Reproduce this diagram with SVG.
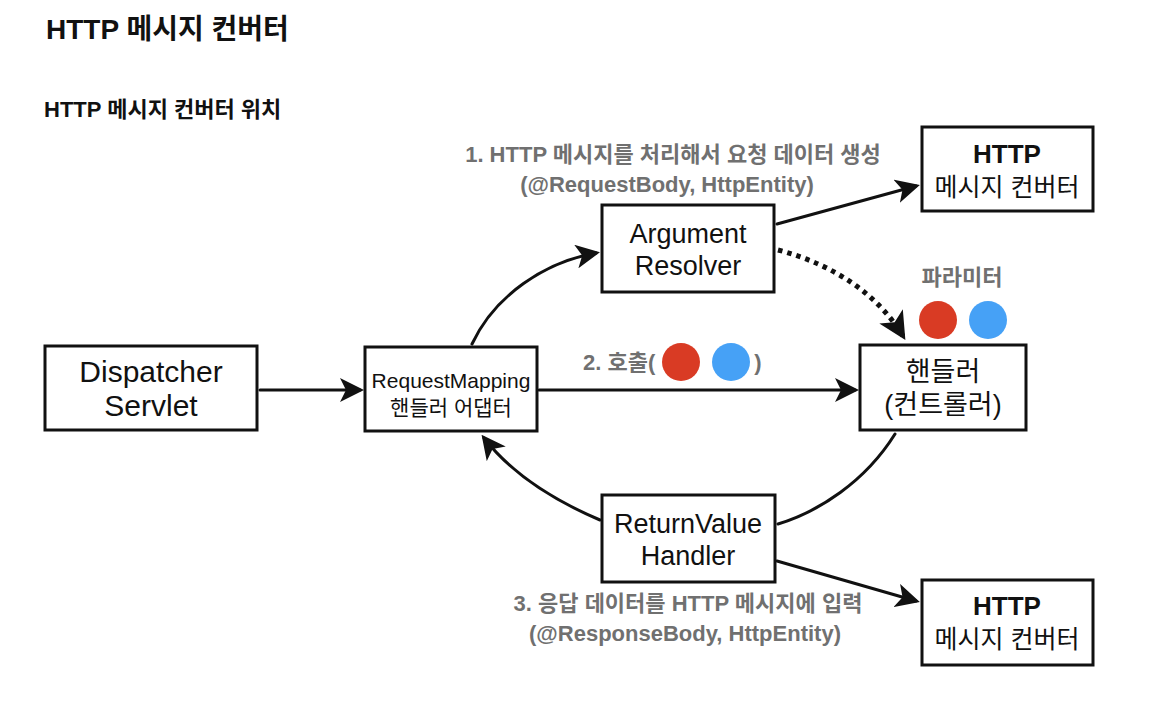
<svg xmlns="http://www.w3.org/2000/svg" width="1174" height="714" viewBox="0 0 1174 714">
<defs>
<marker id="ah" viewBox="0 0 12 12" refX="10" refY="6" markerWidth="8" markerHeight="8" orient="auto" markerUnits="strokeWidth">
<path d="M0,0 L12,6 L0,12 L3,6 Z" fill="#111"/>
</marker>
<marker id="ahs" viewBox="0 0 12 12" refX="10" refY="6" markerWidth="5.5" markerHeight="5.5" orient="auto" markerUnits="strokeWidth">
<path d="M0,0 L12,6 L0,12 L3,6 Z" fill="#111"/>
</marker>
<style>
text{font-family:"Liberation Sans","Noto Sans CJK KR",sans-serif;}
.box{fill:#fff;stroke:#111;stroke-width:3;}
.t{font-size:27px;fill:#111;text-anchor:middle;}
.tb{font-size:26px;fill:#111;text-anchor:middle;font-weight:bold;}
.ts{font-size:21px;fill:#111;text-anchor:middle;}
.lbl{font-size:22px;fill:#707070;font-weight:bold;text-anchor:middle;}
.ln{fill:none;stroke:#111;stroke-width:3;stroke-linecap:round;}
.dot{fill:none;stroke:#111;stroke-width:5;stroke-dasharray:4.5 5;}
</style>
</defs>
<rect width="1174" height="714" fill="#fff"/>
<text x="46" y="39" style="font-size:28px;font-weight:bold;fill:#111;">HTTP 메시지 컨버터</text>
<text x="44" y="117" style="font-size:22px;font-weight:bold;fill:#111;">HTTP 메시지 컨버터 위치</text>

<g id="connectors">
<line class="ln" x1="260" y1="390" x2="360" y2="390" marker-end="url(#ah)"/>
<line class="ln" x1="539" y1="390" x2="855" y2="390" marker-end="url(#ah)"/>
<path class="ln" d="M472,344 C495,295 545,262 596,253" marker-end="url(#ah)"/>
<line class="ln" x1="777" y1="224" x2="916" y2="186" marker-end="url(#ah)"/>
<path class="dot" d="M778,250 C835,265 878,295 903,336" marker-end="url(#ahs)"/>
<path class="ln" d="M895,434 C865,482 818,512 778,524"/>
<path class="ln" d="M600,520 C560,503 515,478 484,438" marker-end="url(#ah)"/>
<line class="ln" x1="777" y1="561" x2="916" y2="601" marker-end="url(#ah)"/>
</g>

<g id="dispatcher">
<rect class="box" x="45" y="346" width="212" height="84"/>
<text class="t" x="151" y="382" style="font-size:30px">Dispatcher</text>
<text class="t" x="151" y="416" style="font-size:30px">Servlet</text>
</g>
<g id="adapter">
<rect class="box" x="365" y="347" width="172" height="84"/>
<text class="ts" x="451" y="388">RequestMapping</text>
<text class="ts" x="451" y="415">핸들러 어댑터</text>
</g>
<g id="argresolver">
<rect class="box" x="602" y="205" width="172" height="87"/>
<text class="t" x="688" y="243">Argument</text>
<text class="t" x="688" y="275">Resolver</text>
</g>
<g id="converter1">
<rect class="box" x="922" y="127" width="171" height="84"/>
<text class="tb" x="1007" y="163">HTTP</text>
<text class="t" x="1007" y="196" style="font-size:25px">메시지 컨버터</text>
</g>
<g id="handler">
<rect class="box" x="860" y="345" width="166" height="85"/>
<text class="t" x="943" y="381">핸들러</text>
<text class="t" x="943" y="414">(컨트롤러)</text>
</g>
<g id="params">
<text class="lbl" x="962" y="285">파라미터</text>
<circle cx="938" cy="320" r="19" fill="#D93B24"/>
<circle cx="988" cy="320" r="19" fill="#46A1F6"/>
</g>
<g id="returnhandler">
<rect class="box" x="602" y="495" width="173" height="87"/>
<text class="t" x="688" y="533">ReturnValue</text>
<text class="t" x="688" y="565">Handler</text>
</g>
<g id="converter2">
<rect class="box" x="922" y="580" width="171" height="85"/>
<text class="tb" x="1007" y="615">HTTP</text>
<text class="t" x="1007" y="648" style="font-size:25px">메시지 컨버터</text>
</g>

<g id="labels">
<text class="lbl" x="673" y="162">1. HTTP 메시지를 처리해서 요청 데이터 생성</text>
<text class="lbl" x="667" y="192">(@RequestBody, HttpEntity)</text>
<text class="lbl" x="583" y="370" style="text-anchor:start">2. 호출(</text>
<circle cx="681" cy="362" r="19" fill="#D93B24"/>
<circle cx="731" cy="362" r="19" fill="#46A1F6"/>
<text class="lbl" x="758" y="370">)</text>
<text class="lbl" x="688" y="611">3. 응답 데이터를 HTTP 메시지에 입력</text>
<text class="lbl" x="685" y="641">(@ResponseBody, HttpEntity)</text>
</g>
</svg>
